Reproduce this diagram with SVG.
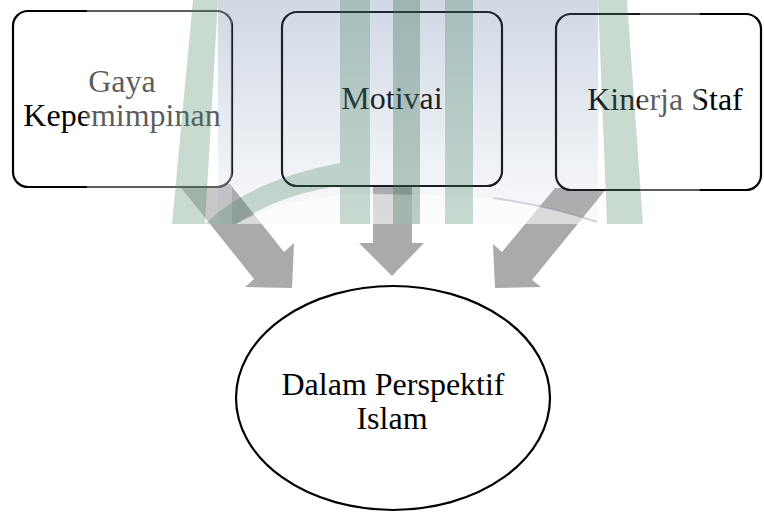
<svg xmlns="http://www.w3.org/2000/svg" width="764" height="513" viewBox="0 0 764 513">
  <defs>
    <style>
      .box{fill:#ffffff;stroke:#000000;stroke-width:2.2}
      .ell{fill:#ffffff;stroke:#000000;stroke-width:2.2}
      .lbl{font-family:"Liberation Serif","Tinos","Times New Roman","DejaVu Serif",serif;font-size:32px;fill:#000000;text-anchor:middle}
      .arr{fill:#aaaaaa}
      .teal{fill:#3d7a5a;fill-opacity:0.28}
      .whiteA{fill:#ffffff}
    </style>
    <linearGradient id="blu" x1="0" y1="0" x2="0" y2="224" gradientUnits="userSpaceOnUse">
      <stop offset="0" stop-color="#2a4f85" stop-opacity="0.22"/>
      <stop offset="0.6" stop-color="#2a4f85" stop-opacity="0.1"/>
      <stop offset="1" stop-color="#2a4f85" stop-opacity="0.03"/>
    </linearGradient>
  </defs>
  <rect x="0" y="0" width="764" height="513" fill="#ffffff"/>

  <g id="connectors">
    <polygon class="arr" points="178,184 230,184 284,252 294,243 292,288 245,287 254,279"/>
    <polygon class="arr" points="373,184 412,184 412,243 424,243 392,276 359,243 373,243"/>
    <polygon class="arr" points="555,188 607,188 532,280 541,287 495,288 493,244 502,252"/>
  </g>

  <g id="node-gaya">
    <rect class="box" x="13" y="11" width="219" height="176" rx="15" ry="15"/>
    <text class="lbl" x="122" y="92">Gaya</text>
    <text class="lbl" x="122" y="126">Kepemimpinan</text>
  </g>
  <g id="node-motivai">
    <rect class="box" x="282" y="12" width="220" height="174" rx="15" ry="15"/>
    <text class="lbl" x="392" y="109">Motivai</text>
  </g>
  <g id="node-kinerja">
    <rect class="box" x="556" y="14" width="205" height="176" rx="15" ry="15"/>
    <text class="lbl" x="665" y="110">Kinerja Staf</text>
  </g>
  <g id="node-islam">
    <ellipse class="ell" cx="393" cy="398" rx="157" ry="112"/>
    <text class="lbl" x="393" y="395">Dalam Perspektif</text>
    <text class="lbl" x="392" y="429">Islam</text>
  </g>

  <g id="watermark">
    <rect class="whiteA" x="87" y="0" width="145" height="224" fill-opacity="0.36"/>
    <rect class="whiteA" x="232" y="0" width="408" height="224" fill-opacity="0.1"/>
    <rect class="whiteA" x="640" y="0" width="60" height="224" fill-opacity="0.36"/>
    <rect x="218" y="0" width="380" height="224" fill="url(#blu)"/>
    <path d="M236 224 Q 290 194 372 194 L 470 196 Q 540 202 600 224 Z" fill="#ffffff" fill-opacity="0.55"/>
    <path d="M493 198 Q 550 206 597 222" fill="none" stroke="#8a8f99" stroke-opacity="0.35" stroke-width="2"/>
    <path class="teal" d="M205 224 Q 250 180 340 163 L 340 186 Q 280 194 236 224 Z"/>
    <polygon class="teal" points="193,0 218,0 205,224 172,224"/>
    <rect class="teal" x="340" y="0" width="30" height="224"/>
    <rect x="393" y="0" width="27" height="224" fill="#3a6e55" fill-opacity="0.34"/>
    <rect class="teal" x="445" y="0" width="28" height="224"/>
    <polygon class="teal" points="598,0 627,0 643,224 607,224"/>
  </g>
</svg>
